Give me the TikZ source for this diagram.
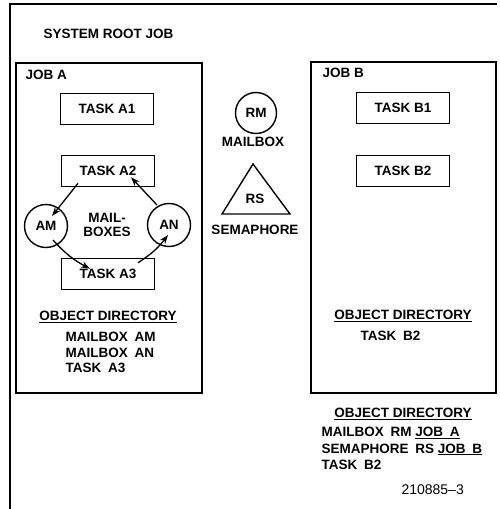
\documentclass[tikz,border=0pt]{standalone}
\usepackage{fontspec}
\setmainfont{Liberation Sans}
\usetikzlibrary{calc,arrows.meta}
\begin{document}
\begin{tikzpicture}[x=1pt, y=-1pt, >={Stealth[length=9pt,width=6.5pt]},
    font=\fontsize{13.5}{15.5}\selectfont\bfseries,
    taskbox/.style={draw, line width=1.6pt, minimum width=93pt, minimum height=31pt, inner sep=0pt},
    jobbox/.style={draw, line width=2.2pt, anchor=north west, inner sep=0pt},
    mbox/.style={draw, circle, line width=1.4pt, minimum size=43pt, inner sep=0pt},
    link/.style={->, line width=1.3pt}]
    \useasboundingbox (0,0) rectangle (500,509);
    \draw[line width=1.2pt] (10,509) -- (10,4) -- (497,4);
    \node[anchor=west] (root) at (40,34) {SYSTEM ROOT JOB};

    % job A
    \node[jobbox, minimum width=186pt, minimum height=330pt] (jobA) at (15,62) {};
    \node[anchor=west] (jobAname) at (22,75) {JOB A};
    \node[taskbox] (taskA1) at (107,109) {TASK A1};
    \node[taskbox] (taskA2) at (108,171) {TASK A2};
    \node[taskbox] (taskA3) at (108,274) {TASK A3};
    \node[mbox] (am) at (46,226) {AM};
    \node[mbox] (an) at (169,225) {AN};
    \node[align=center] (mboxes) at (107,225) {MAIL-\\[-2pt]BOXES};

    \draw[link] ($(taskA2.south)+(-30,-4)$) -- ($(am.center)+(6,-10)$);
    \draw[link] ($(an.center)+(-12,-20)$) -- ($(taskA2.south)+(23,-10)$);
    \draw[link] ($(am.center)+(7,14)$) to[bend right=10] ($(taskA3.north)+(-18,11)$);
    \draw[link] ($(taskA3.north)+(30,5)$) to[bend right=10] ($(an.center)+(-1,10)$);

    \node (dirA) at (108,317) {\underline{OBJECT DIRECTORY}};
    \foreach \t [count=\i] in {MAILBOX\enspace AM, MAILBOX\enspace AN, TASK\enspace A3}
        \node[anchor=west] (dirA\i) at (62,321.5+15.5*\i) {\t};

    % system objects
    \node[mbox, minimum size=41pt] (rm) at (256,113) {RM};
    \node (rmname) at (253,142) {MAILBOX};
    \coordinate (rsTop) at (253,164);
    \coordinate (rsLeft) at (222,214);
    \coordinate (rsRight) at (290,214);
    \draw[line width=1.4pt, line join=miter] (rsTop) -- (rsLeft) -- (rsRight) -- cycle;
    \node (rs) at (255,199) {RS};
    \node (rsname) at (255,230) {SEMAPHORE};

    % job B
    \node[jobbox, minimum width=185pt, minimum height=331pt] (jobB) at (310,61) {};
    \node[anchor=west] (jobBname) at (319,73) {JOB B};
    \node[taskbox] (taskB1) at (403,108) {TASK B1};
    \node[taskbox] (taskB2) at (403,171) {TASK B2};
    \node (dirB) at (403,316) {\underline{OBJECT DIRECTORY}};
    \node[anchor=west] (dirB1) at (357,336) {TASK\enspace B2};

    % root directory
    \node (dirR) at (403,414) {\underline{OBJECT DIRECTORY}};
    \node[anchor=west] (dirR1) at (318,433) {MAILBOX\enspace RM \underline{JOB\enspace A}};
    \node[anchor=west] (dirR2) at (318,449.5) {SEMAPHORE\enspace RS \underline{JOB\enspace B}};
    \node[anchor=west] (dirR3) at (318,465) {TASK\enspace B2};
    \node[anchor=west, font=\fontsize{14}{16}\selectfont] (fig) at (398,490) {210885--3};
\end{tikzpicture}
\end{document}
